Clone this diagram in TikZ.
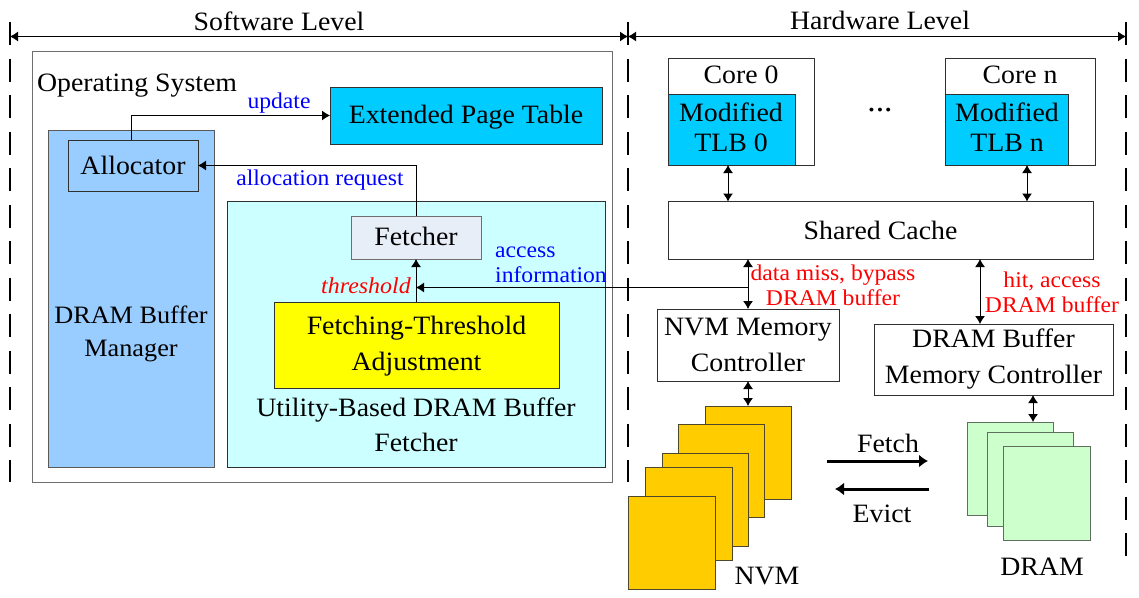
\documentclass[tikz,border=0pt]{standalone}
\usepackage{fontspec}
\setmainfont[FakeStretch=1.05]{Liberation Serif}
\usetikzlibrary{arrows.meta}
\definecolor{eptblue}{HTML}{00CCFF}
\definecolor{mgrblue}{HTML}{99CCFF}
\definecolor{paleCyan}{HTML}{CCFFFF}
\definecolor{fetchgrey}{HTML}{E8EEF7}
\definecolor{nvmgold}{HTML}{FFCC00}
\definecolor{drampale}{HTML}{CCFFCC}
\definecolor{edge}{HTML}{303030}
\definecolor{pureyellow}{RGB}{255,255,0}
\definecolor{pureblue}{RGB}{0,0,255}
\definecolor{purered}{RGB}{255,0,0}
\tikzset{
  box/.style={draw=edge,line width=1pt,inner sep=0pt,outer sep=0pt,align=center,font=\fontsize{26.5}{36}\selectfont},
  plain/.style={inner sep=0pt,outer sep=0pt,align=center,font=\fontsize{26.5}{36}\selectfont},
  bluelabel/.style={inner sep=0pt,text=pureblue,align=left,font=\fontsize{22.5}{25}\selectfont},
  redlabel/.style={inner sep=0pt,text=purered,align=center,font=\fontsize{22.5}{25}\selectfont},
  conn/.style={line width=1pt,-{Latex[length=8pt,width=10pt]}},
  biconn/.style={line width=1pt,{Latex[length=8pt,width=10pt]}-{Latex[length=8pt,width=10pt]}},
  bigconn/.style={line width=3pt,-{Latex[length=9pt,width=13pt]}},
  boundary/.style={line width=2pt,dash pattern=on 23pt off 13.5pt},
}
\newcommand{\rectbox}[7][]{% options, name, x1, y1, x2, y2, text
  \node[box,#1,minimum width=#5pt-#3pt,minimum height=#6pt-#4pt] (#2) at ({(#3+#5)/2},{(#4+#6)/2}) {#7};}
\begin{document}
\begin{tikzpicture}[x=1pt,y=-1pt]
\useasboundingbox (0,0) rectangle (1139,597);
% boundaries
\coordinate (dl0) at (10,22); \coordinate (dl1) at (10,482);
\coordinate (dm0) at (628,22); \coordinate (dm1) at (628,482);
\coordinate (dr0) at (1126,22); \coordinate (dr1) at (1126,556);
\draw[boundary] (dl0) -- (dl1);
\draw[boundary] (dm0) -- (dm1);
\draw[boundary] (dr0) -- (dr1);
\coordinate (al) at (10,36.5); \coordinate (am) at (628,36.5); \coordinate (ar) at (1126,36.5);
\draw[biconn] (al) -- (am);
\draw[biconn] (am) -- (ar);
\node[plain] (swl) at (279,21) {Software Level};
\node[plain] (hwl) at (880,20) {Hardware Level};
% software side
\rectbox[draw=edge!70]{os}{32}{51}{612}{482}{}
\node[plain,anchor=west] (ostext) at (37,86) {Operating System};
\rectbox[fill=eptblue]{ept}{330}{87}{602}{144}{}
\node[plain] (epttext) at (466,117) {Extended Page Table};
\rectbox[fill=mgrblue,draw=edge!80]{mgr}{48}{130}{214}{467}{}
\node[plain,font=\fontsize{25}{33}\selectfont] (mgrtext) at (131,334) {DRAM Buffer\\Manager};
\rectbox[fill=mgrblue]{alloc}{68}{140}{198}{191}{Allocator}
\rectbox[fill=paleCyan,draw=edge]{util}{227}{201}{605}{467}{}
\rectbox[fill=fetchgrey,draw=edge!70]{fetcher}{351}{216}{481}{259}{}
\node[plain] (fetchertext) at (416,236.5) {Fetcher};
\rectbox[fill=pureyellow]{adjust}{274}{302}{559}{388}{}
\node[plain] (adjusttext) at (416.5,346) {Fetching-Threshold\\Adjustment};
\node[plain,font=\fontsize{26.5}{35}\selectfont] (utiltext) at (416,425) {Utility-Based DRAM Buffer\\Fetcher};
\node[bluelabel] (lupdate) at (279,103) {update};
\node[bluelabel] (lalloc) at (320,180) {allocation request};
\node[bluelabel,anchor=west] (laccess) at (495,265) {access\\information};
\node[redlabel,font=\fontsize{22.8}{25}\selectfont\itshape] (lthresh) at (366,285.5) {threshold};
\draw[conn] ([xshift=-2pt]alloc.north) |- (ept.west);
\draw[conn] (fetcher.north) |- (alloc.east);
\draw[conn] (adjust.north-|fetcher.south) -- (fetcher.south);
% hardware side
\rectbox{core0}{668}{58}{814}{165}{}
\rectbox{coren}{945}{58}{1095}{165}{}
\node[plain] (core0t) at (741,75) {Core 0};
\node[plain] (corent) at (1020,75) {Core n};
\rectbox[fill=eptblue]{tlb0}{668}{94}{795}{165}{}
\rectbox[fill=eptblue]{tlbn}{945}{94}{1068}{165}{}
\node[plain,font=\fontsize{26.5}{30}\selectfont] (tlb0t) at (731,127.5) {Modified\\TLB 0};
\node[plain,font=\fontsize{26.5}{30}\selectfont] (tlbnt) at (1007,127.5) {Modified\\TLB n};
\node[plain,font=\fontsize{32}{36}\selectfont] (dots) at (880,110) {...};
\rectbox{cache}{668}{201.5}{1093}{259}{Shared Cache}
\rectbox{nvmc}{657}{309}{839}{381}{NVM Memory\\Controller}
\rectbox{dramc}{874}{324}{1113}{395}{DRAM Buffer\\Memory Controller}
\node[redlabel] (lmiss) at (833,285) {data miss, bypass\\DRAM buffer};
\node[redlabel] (lhit) at (1052,292.5) {hit, access\\DRAM buffer};
% NVM stack
\tikzset{nvmbox/.style={fill=nvmgold,draw=edge!85!nvmgold}}
\rectbox[nvmbox]{n1}{705}{406}{791}{499}{}
\rectbox[nvmbox]{n2}{678}{424}{764}{517}{}
\rectbox[nvmbox]{n3}{662}{453}{748}{546}{}
\rectbox[nvmbox]{n4}{645}{467}{732}{560}{}
\rectbox[nvmbox]{n5}{628}{496}{715}{589}{}
\node[plain] (nvmt) at (767,576) {NVM};
% DRAM stack
\tikzset{drambox/.style={fill=drampale,draw=edge!70!drampale}}
\rectbox[drambox]{d1}{967}{422}{1053}{515}{}
\rectbox[drambox]{d2}{987}{432}{1073}{526}{}
\rectbox[drambox]{d3}{1003}{446}{1090}{540}{}
\node[plain] (dramt) at (1042,567) {DRAM};
% connectors
\coordinate (c0x) at (728,0); \coordinate (cnx) at (1027,0);
\coordinate (nx) at (748,0); \coordinate (hx) at (980,0); \coordinate (dx) at (1033,0);
\draw[biconn] (core0.south-|c0x) -- (cache.north-|c0x);
\draw[biconn] (coren.south-|cnx) -- (cache.north-|cnx);
\draw[biconn] (cache.south-|nx) -- (nvmc.north-|nx);
\draw[biconn] (cache.south-|hx) -- (dramc.north-|hx);
\draw[biconn] (nvmc.south-|nx) -- (n1.north-|nx);
\draw[biconn] (dramc.south-|dx) -- (d1.north-|dx);
\coordinate (jt) at (748,287.5);
\coordinate (jf) at (416,287.5);
\draw[conn] (jt) -- (jf);
\coordinate (f0) at (827,461); \coordinate (f1) at (928,461);
\coordinate (e0) at (929,489); \coordinate (e1) at (835,489);
\draw[bigconn] (f0) -- (f1);
\draw[bigconn] (e0) -- (e1);
\node[plain] (lfetch) at (888,443) {Fetch};
\node[plain] (levict) at (882,514) {Evict};
\end{tikzpicture}
\end{document}
